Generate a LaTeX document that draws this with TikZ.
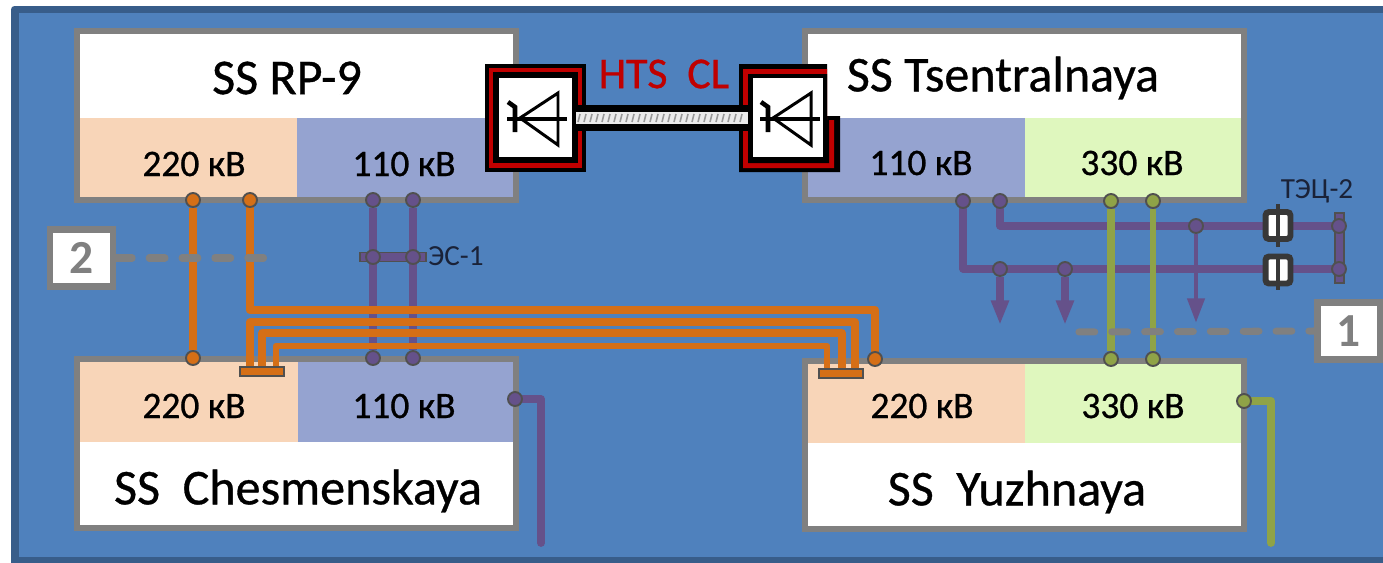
\documentclass[tikz,border=0pt]{standalone}
\usepackage{fontspec}
\setmainfont{Carlito}
\newfontfamily\heavyfont[FakeBold=0.7]{Carlito}
\usetikzlibrary{arrows.meta}
\definecolor{framedark}{HTML}{385D8A}
\definecolor{frameblue}{HTML}{4F81BD}
\definecolor{boxgrey}{HTML}{808080}
\definecolor{peach}{HTML}{F8D5B8}
\definecolor{lavender}{HTML}{95A3D0}
\definecolor{palegreen}{HTML}{DFF7BE}
\definecolor{busorange}{HTML}{D56F17}
\definecolor{buspurple}{HTML}{65518A}
\definecolor{busolive}{HTML}{8FA347}
\definecolor{edgegrey}{HTML}{505050}
\definecolor{htsred}{HTML}{C00000}
\definecolor{inktext}{HTML}{1A2238}
\pgfdeclarelayer{boxes}
\pgfdeclarelayer{wires}
\pgfsetlayers{boxes,wires,main}
\tikzset{
	ssbox/.style={draw=boxgrey,line width=3.4pt},
	dot/.style={circle,draw=edgegrey,line width=1.1pt,inner sep=0pt,minimum size=0.28cm},
	bar/.style={rectangle,draw=edgegrey,line width=0.9pt,inner sep=0pt},
	numbox/.style={rectangle,draw=boxgrey,fill=white,line width=3.8pt,inner sep=0pt,minimum width=1.26cm,minimum height=1.14cm,text=boxgrey,font=\fontsize{27}{27}\selectfont\bfseries},
	capbox/.style={rectangle,draw=black!78,fill=white,line width=3.4pt,rounded corners=2pt,inner sep=0pt,minimum width=0.5cm},
	busdash/.style={boxgrey,line width=4pt,line cap=round},
	volt/.style={font=\heavyfont\fontsize{21.3}{21.3}\selectfont},
	title/.style={font=\heavyfont\fontsize{28.5}{28.5}\selectfont},
	small/.style={text=inktext,font=\fontsize{16.6}{16.6}\selectfont},
	wire/.style={line join=round,line cap=round}
}
\begin{document}
\begin{tikzpicture}[x=0.02cm,y=-0.02cm]
	\useasboundingbox (0,0) rectangle (1383,562);
	% draw bars
	\node[bar,fill=buspurple,minimum width=1.32cm,minimum height=0.18cm] (esbar) at (393,257) {};
	\node[bar,fill=buspurple,minimum width=0.18cm,minimum height=1.4cm] (tecbar) at (1339.5,248) {};
	\node[bar,fill=busorange,minimum width=0.88cm,minimum height=0.17cm] (chbar) at (262,371.5) {};
	\node[bar,fill=busorange,minimum width=0.88cm,minimum height=0.17cm] (yzbar) at (841,373.5) {};
	% draw junctions
	\foreach \n/\x/\y/\c in {rpa/193/200/busorange,rpb/250/200/busorange,rpc/373/200/buspurple,rpd/413/200/buspurple,
		cha/193/358/busorange,chc/373/358/buspurple,chd/413/358/buspurple,chout/515/399/buspurple,
		tsa/963/201/buspurple,tsb/1000/201/buspurple,tsc/1111/201/busolive,tsd/1153/201/busolive,
		yza/875/359/busorange,yzc/1111/359/busolive,yzd/1153/359/busolive,yzout/1244/401/busolive,
		esa/373/257/buspurple,esb/413/257/buspurple,tea/1339/226/buspurple,teb/1339/269/buspurple,
		upa/1196/226/buspurple,loa/1000/269/buspurple,lob/1065/269/buspurple}
	\node[dot,fill=\c] (\n) at (\x,\y) {};
	% draw frame and boxes
	\begin{pgfonlayer}{boxes}
	\fill[white] (0,0) rectangle (1383,562);
	\fill[framedark,rounded corners=2pt] (11,6) rectangle (1395,575);
	\fill[frameblue] (19,13) rectangle (1383,557);
	\fill[white] (77,31) rectangle (516,200);
	\fill[peach] (77,118) rectangle (297,200);
	\fill[lavender] (297,118) rectangle (516,200);
	\draw[ssbox] (77,31) rectangle (516,200);
	\fill[white] (77,359) rectangle (516,528);
	\fill[peach] (77,359) rectangle (298,442);
	\fill[lavender] (298,359) rectangle (516,442);
	\draw[ssbox] (77,359) rectangle (516,528);
	\fill[white] (805,31) rectangle (1244,200);
	\fill[lavender] (805,118) rectangle (1025,200);
	\fill[palegreen] (1025,118) rectangle (1244,200);
	\draw[ssbox] (805,31) rectangle (1244,200);
	\fill[white] (805,361) rectangle (1244,529);
	\fill[peach] (805,361) rectangle (1025,443);
	\fill[palegreen] (1025,361) rectangle (1244,443);
	\draw[ssbox] (805,361) rectangle (1244,529);
	\end{pgfonlayer}
	% station labels
	\node[title] (rptitle) at (287,78) {SS RP-9};
	\node[title] (tstitle) at (1003,78) {SS Tsentralnaya};
	\node[title] (chtitle) at (298,491) {SS\ \ Chesmenskaya};
	\node[title] (yztitle) at (1017,492) {SS\ \ Yuzhnaya};
	\foreach \n/\x/\y/\t in {rpl/194/164/220,rpr/404/164/110,tsl/921/163/110,tsr/1132/163/330,
		chl/194/406/220,chr/404/406/110,yzl/922/406/220,yzr/1133/406/330}
	\node[volt] (\n) at (\x,\y) {\t~кВ};
	\node[small] (eslabel) at (456,256) {ЭС-1};
	\node[small] (teclabel) at (1317,191) {ТЭЦ-2};
	\node[numbox] (two) at (81.5,258) {2};
	\node[numbox] (one) at (1349,331) {1};
	% wires
	\begin{pgfonlayer}{wires}
	\draw[buspurple,line width=5pt] (rpc) -- (chc);
	\draw[buspurple,line width=4pt] (rpd) -- (chd);
	\coordinate (chend) at (541,543);
	\coordinate (yzend) at (1271,543);
	\draw[wire,buspurple,line width=4.4pt] (chout) -| (chend);
	\draw[wire,buspurple,line width=4pt] (tsb) |- (tea);
	\draw[wire,buspurple,line width=4pt] (tsa) |- (teb);
	\foreach \n/\a/\x/\y/\w in {arra/loa/1000/325/4,arrb/lob/1065/325/4,arrc/upa/1196/323/2.8}{
		\coordinate (\n) at (\x,\y);
		\draw[buspurple,line width=\w pt,-{Triangle[length=14pt,width=9.5pt]}] (\a) -- (\n);
	}
	\draw[busolive,line width=4.6pt] (tsc) -- (yzc);
	\draw[busolive,line width=3.4pt] (tsd) -- (yzd);
	\draw[wire,busolive,line width=4.4pt] (yzout) -| (yzend);
	\draw[busorange,line width=5pt] (rpa) -- (cha);
	\coordinate (wirea) at (875,310);
	\draw[wire,busorange,line width=5pt] (rpb) |- (wirea) -- (yza);
	\foreach \n/\a/\b/\y/\w in {wireb/250/855/322/4.4,wirec/262/842/333/4.2,wired/276/827/346/3.8}{
		\coordinate (\n a) at (\a,367);
		\coordinate (\n b) at (\b,369);
		\coordinate (\n c) at (\b,\y);
		\draw[busorange,line width=\w pt,line join=round] (\n a) |- (\n c) -- (\n b);
	}
	\end{pgfonlayer}
	% dashed leaders
	\coordinate (twoend) at (265,258);
	\coordinate (oneend) at (1073,332);
	\draw[busdash,dash pattern=on 9pt off 9.7pt] (two.east) -- (twoend);
	\draw[busdash,dash pattern=on 9pt off 9.7pt,dash phase=6pt] (one.west) -- (oneend);
	% capacitors
	\node[capbox,minimum height=0.54cm] (capa) at (1278,225.5) {};
	\node[capbox,minimum height=0.54cm] (capb) at (1278,270) {};
	\coordinate (capatop) at (1278,204);
	\coordinate (capabot) at (1278,247);
	\coordinate (capbtop) at (1278,254);
	\coordinate (capbbot) at (1278,290);
	\draw[black!78,line width=2.8pt] (capatop) -- (capabot);
	\draw[black!78,line width=2.8pt] (capbtop) -- (capbbot);
	% left limiter
	\fill[black] (485,64) rectangle (586,172);
	\fill[htsred] (489,68) rectangle (582,168);
	\fill[black] (493,72) rectangle (578,163);
	\node[fill=white,inner sep=0pt,minimum width=1.46cm,minimum height=1.58cm] (limleft) at (535.5,117.5) {};
	% right limiter
	\fill[black] (739,64) -- (827,64) -- (827,116) -- (840,116) -- (840,172) -- (739,172) -- cycle;
	\fill[htsred] (743,69) -- (827,69) -- (827,120) -- (834,120) -- (834,168) -- (743,168) -- cycle;
	\fill[black] (748,74) -- (827,74) -- (827,120) -- (829,120) -- (829,163) -- (748,163) -- cycle;
	\node[fill=white,inner sep=0pt,minimum width=1.4cm,minimum height=1.58cm] (limright) at (788,117.5) {};
	% cable
	\fill[black] (578,105) rectangle (748,131);
	\fill[black!8] (576,112) rectangle (748,124);
	\foreach \x in {578,584,...,744}
	\draw[black!40,line width=0.9pt] (\x+2,114) -- (\x,122);
	% diodes
	\foreach \s in {0,253}{
		\draw[line width=1.7pt,line join=miter] (520+\s,118) -- (558+\s,93) -- (558+\s,145) -- cycle;
		\draw[line width=2.4pt] (507+\s,119) -- (567+\s,119);
		\draw[line width=2.6pt] (515+\s,132) -- (515+\s,107) -- (508+\s,102);
	}
	\node[text=htsred,font=\heavyfont\fontsize{25}{25}\selectfont] (hts) at (664,74) {HTS\ \ CL};
\end{tikzpicture}
\end{document}
